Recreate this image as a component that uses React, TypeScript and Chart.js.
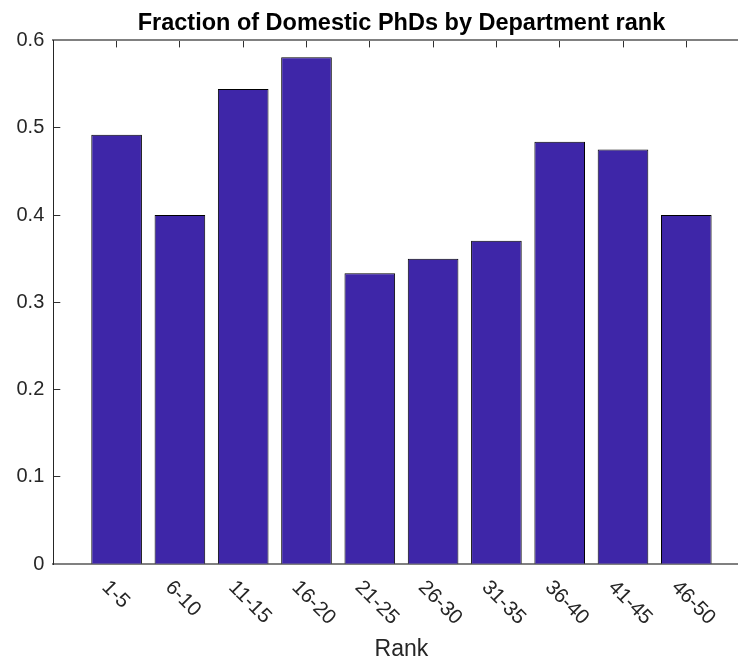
import React, { useEffect, useRef } from 'react';
import { Chart, registerables } from 'chart.js';

Chart.register(...registerables);

const TITLE = 'Fraction of Domestic PhDs by Department rank';
const X_LABEL = 'Rank';
const CATEGORIES = ['1-5', '6-10', '11-15', '16-20', '21-25', '26-30', '31-35', '36-40', '41-45', '46-50'];
const VALUES = [0.4918, 0.4, 0.5444, 0.5806, 0.3333, 0.35, 0.3704, 0.4839, 0.475, 0.4];
const Y_MIN = 0;
const Y_MAX = 0.6;
const Y_STEP = 0.1;

const FONT = '"Liberation Sans", Arial, Helvetica, sans-serif';
const TEXT = '#262626';
const BAR = '#3e26a8';

export default function App() {
  const ref = useRef<HTMLCanvasElement>(null);

  useEffect(() => {
    const canvas = ref.current;
    if (!canvas) return;

    const labelPlugin = {
      id: 'rotatedLabels',
      afterDraw(chart: any) {
        const ctx = chart.ctx;
        const xs = chart.scales.x;
        const area = chart.chartArea;
        ctx.save();
        ctx.fillStyle = TEXT;
        ctx.font = `20.5px ${FONT}`;
        CATEGORIES.forEach((lab, i) => {
          const px = xs.getPixelForValue(i + 1);
          ctx.save();
          ctx.translate(px - 11.5, area.bottom + 20);
          ctx.rotate(Math.PI / 4);
          ctx.textAlign = 'left';
          ctx.textBaseline = 'middle';
          ctx.fillText(lab, 0, 0);
          ctx.restore();
        });
        ctx.font = `23px ${FONT}`;
        ctx.textAlign = 'center';
        ctx.textBaseline = 'middle';
        ctx.fillText(X_LABEL, (area.left + area.right) / 2, area.bottom + 85);
        ctx.restore();
      },
    };

    const tickList = (s: any) => {
      s.ticks = CATEGORIES.map((_, i) => ({ value: i + 1 }));
    };

    const chart = new Chart(canvas, {
      type: 'bar',
      data: {
        datasets: [
          {
            data: VALUES.map((v, i) => ({ x: i + 1, y: v })),
            backgroundColor: BAR,
            borderColor: '#000000',
            borderWidth: 1,
            barPercentage: 0.8,
            categoryPercentage: 1,
          },
        ],
      },
      options: {
        animation: false,
        responsive: false,
        devicePixelRatio: 1,
        layout: { padding: { left: 0, top: 0, bottom: 0, right: 20.4 } },
        plugins: {
          legend: { display: false },
          tooltip: { enabled: false },
          title: {
            display: true,
            text: TITLE,
            color: '#000000',
            fullSize: false,
            font: { family: FONT, size: 23.5, weight: 'bold', lineHeight: 1.2 },
            padding: { top: 9.5, bottom: 2.7 },
          },
        },
        scales: {
          x: {
            type: 'linear',
            position: 'bottom',
            min: 0,
            max: 11,
            offset: false,
            z: 1,
            afterBuildTicks: tickList,
            afterFit: (s: any) => {
              s.height = 96.8;
            },
            ticks: { display: false },
            grid: {
              offset: false,
              drawOnChartArea: false,
              drawTicks: true,
              tickLength: -7,
              color: '#303030',
              lineWidth: 1,
            },
            border: { display: true, color: '#808080', width: 2 },
          },
          x2: {
            type: 'linear',
            position: 'top',
            min: 0,
            max: 11,
            offset: false,
            afterBuildTicks: tickList,
            afterFit: (s: any) => {
              s.height = 0;
            },
            ticks: { display: false },
            grid: {
              offset: false,
              drawOnChartArea: false,
              drawTicks: true,
              tickLength: -7,
              color: '#303030',
              lineWidth: 1,
            },
            border: { display: true, color: '#808080', width: 2 },
          },
          y: {
            type: 'linear',
            position: 'left',
            min: Y_MIN,
            max: Y_MAX,
            afterFit: (s: any) => {
              s.width = 53.3;
            },
            ticks: {
              stepSize: Y_STEP,
              color: TEXT,
              font: { family: FONT, size: 20 },
              padding: 16,
            },
            grid: {
              drawOnChartArea: false,
              drawTicks: true,
              tickLength: -7,
              color: '#303030',
              lineWidth: 1,
            },
            border: { display: true, color: '#262626', width: 1 },
          },
        },
      },
      plugins: [labelPlugin],
    } as any);

    return () => chart.destroy();
  }, []);

  return (
    <div
      style={{
        position: 'absolute',
        left: 0,
        top: 0,
        width: 738,
        height: 661,
        overflow: 'hidden',
        background: '#ffffff',
      }}
    >
      <canvas ref={ref} width={770} height={661} style={{ display: 'block' }} />
    </div>
  );
}
